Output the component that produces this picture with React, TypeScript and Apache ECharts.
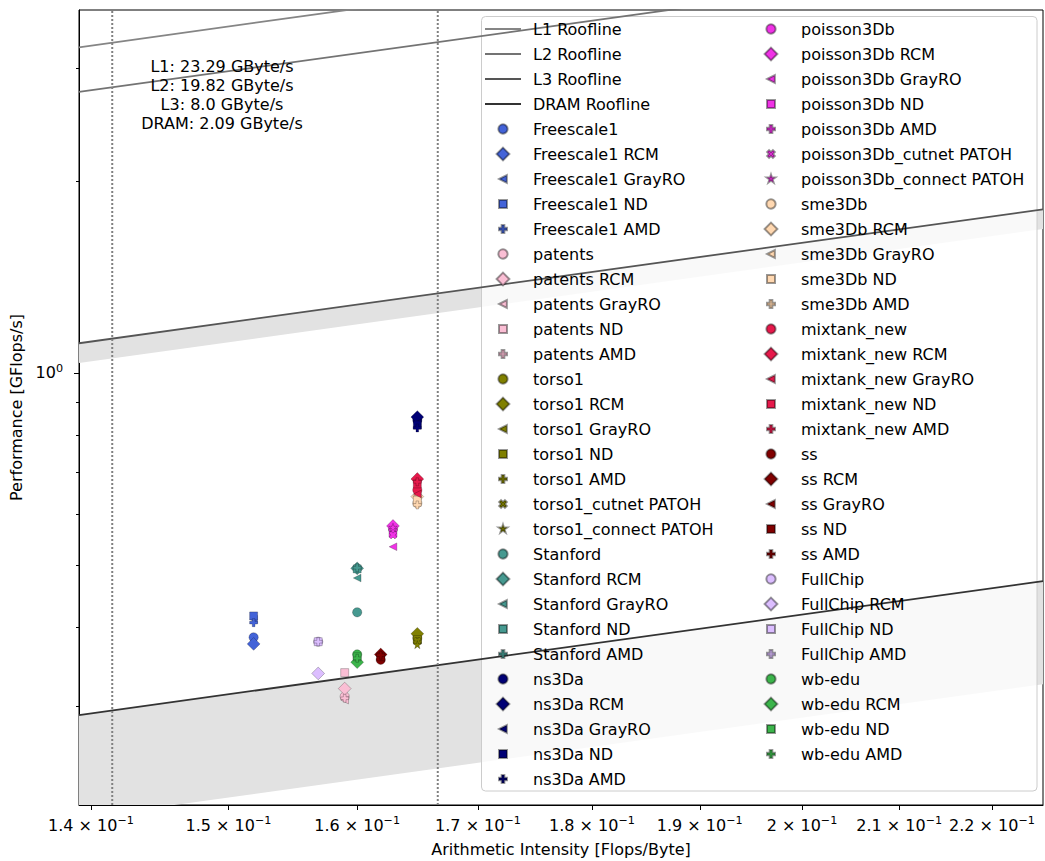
import React, { useEffect, useRef } from 'react';
import * as echarts from 'echarts';

const FONT = 'DejaVu Sans';

// ---- axes ----
const X_MIN = 0.13916;
const X_MAX = 0.2257;
const Y_MIN = 0.2102;
const Y_MAX = 3.708;
const X_TICKS = [0.14, 0.15, 0.16, 0.17, 0.18, 0.19, 0.2, 0.21, 0.22];
const X_TICK_MANTISSA = ['1.4', '1.5', '1.6', '1.7', '1.8', '1.9', '2', '2.1', '2.2'];
const X_TICK_EXP = '−1';
const Y_MAJOR_TICKS = [1];
const Y_MAJOR_LABELS = ['10'];
const Y_MAJOR_EXP = ['0'];
const Y_MINOR_TICKS = [0.3, 0.4, 0.5, 0.6, 0.7, 0.8, 0.9, 2, 3];
const X_NAME = 'Arithmetic Intensity [Flops/Byte]';
const Y_NAME = 'Performance [GFlops/s]';

// ---- rooflines ----
const ROOF_NAMES = ['L1', 'L2', 'L3', 'DRAM'];
const ROOF_BW = [23.29, 19.82, 8.0, 2.09];
const ROOF_COLORS = ['#858585', '#737373', '#555555', '#333333'];
const BAND_LOW = [7.45, 1.44];
const BAND_HIGH = [8.0, 2.09];
const VLINES_AI = [0.1415, 0.1666];

// ---- measured kernels ----
const MATRICES = ['Freescale1', 'patents', 'torso1', 'Stanford', 'ns3Da', 'poisson3Db', 'sme3Db', 'mixtank_new', 'ss', 'FullChip', 'wb-edu'];
const MATRIX_COLORS = ['#4363d8', '#fabed4', '#808000', '#469990', '#000075', '#f032e6', '#ffd8b1', '#e6194b', '#800000', '#dcbeff', '#3cb44b'];
const MATRIX_AI = [0.1519, 0.159, 0.1649, 0.16, 0.1649, 0.1629, 0.1649, 0.1649, 0.1619, 0.1569, 0.16];

const VARIANTS_STD = ['', ' RCM', ' GrayRO', ' ND', ' AMD'];
const VARIANTS_PATOH = ['', ' RCM', ' GrayRO', ' ND', ' AMD', '_cutnet PATOH', '_connect PATOH'];
const VARIANTS_NOGRAY = ['', ' RCM', ' ND', ' AMD'];

const FREESCALE1_PERF = [0.385, 0.376, 0.411, 0.416, 0.406];
const PATENTS_PERF = [0.311, 0.32, 0.307, 0.339, 0.309];
const TORSO1_PERF = [0.384, 0.39, 0.381, 0.382, 0.379, 0.38, 0.3745];
const STANFORD_PERF = [0.4215, 0.494, 0.477, 0.493, 0.495];
const NS3DA_PERF = [0.844, 0.853, 0.835, 0.829, 0.82];
const POISSON3DB_PERF = [0.57, 0.5756, 0.534, 0.561, 0.567, 0.557, 0.572];
const SME3DB_PERF = [0.625, 0.64, 0.641, 0.632, 0.621];
const MIXTANK_PERF = [0.6555, 0.682, 0.646, 0.67, 0.675];
const SS_PERF = [0.355, 0.362, 0.358, 0.359, 0.361];
const FULLCHIP_PERF = [0.379, 0.338, 0.379, 0.379];
const WBEDU_PERF = [0.362, 0.352, 0.359, 0.357];

const MATRIX_VARIANTS = [VARIANTS_STD, VARIANTS_STD, VARIANTS_PATOH, VARIANTS_STD, VARIANTS_STD, VARIANTS_PATOH, VARIANTS_STD, VARIANTS_STD, VARIANTS_STD, VARIANTS_NOGRAY, VARIANTS_NOGRAY];
const MATRIX_PERF = [FREESCALE1_PERF, PATENTS_PERF, TORSO1_PERF, STANFORD_PERF, NS3DA_PERF, POISSON3DB_PERF, SME3DB_PERF, MIXTANK_PERF, SS_PERF, FULLCHIP_PERF, WBEDU_PERF];
const LEGEND_COL1_MATRICES = 5;

// ---- marker shapes (drawn in a 100x100 box, padded by anchor points) ----
const PAD = 'M0 0 M100 100 ';
function poly(pts: number[][]): string {
  return PAD + pts.map((p, i) => (i ? 'L' : 'M') + (50 + p[0]).toFixed(2) + ' ' + (50 + p[1]).toFixed(2)).join(' ') + ' Z';
}
function circle(r: number): string {
  return PAD + `M${50 - r} 50 A${r} ${r} 0 1 0 ${50 + r} 50 A${r} ${r} 0 1 0 ${50 - r} 50 Z`;
}
function plus(h: number): string {
  const a = h / 3;
  return poly([[-a, -h], [a, -h], [a, -a], [h, -a], [h, a], [a, a], [a, h], [-a, h], [-a, a], [-h, a], [-h, -a], [-a, -a]]);
}
function xshape(h: number): string {
  const s = h / 2;
  const raw = [[-1, -2], [0, -1], [1, -2], [2, -1], [1, 0], [2, 1], [1, 2], [0, 1], [-1, 2], [-2, 1], [-1, 0], [-2, -1]];
  return poly(raw.map(p => [p[0] * s, p[1] * s]));
}
function star(R: number): string {
  const r = R * 0.381966;
  const pts: number[][] = [];
  for (let i = 0; i < 10; i++) {
    const ang = -Math.PI / 2 + (i * Math.PI) / 5;
    const rad = i % 2 === 0 ? R : r;
    pts.push([rad * Math.cos(ang), rad * Math.sin(ang)]);
  }
  return poly(pts);
}
const MARKERS: Record<string, string> = {
  '': 'path://' + circle(29),
  ' RCM': 'path://' + poly([[0, -40], [40, 0], [0, 40], [-40, 0]]),
  ' GrayRO': 'path://' + poly([[-24, 0], [24, -24], [24, 24]]),
  ' ND': 'path://' + poly([[-25, -25], [25, -25], [25, 25], [-25, 25]]),
  ' AMD': 'path://' + plus(25),
  '_cutnet PATOH': 'path://' + xshape(24),
  '_connect PATOH': 'path://' + star(28),
};
const LINE_ICON = 'path://M0 0 L36 0 L36 1.8 L0 1.8 Z';

const RICH = {
  m: { fontSize: 16, fontFamily: FONT, color: '#000', lineHeight: 20 },
  s: { fontSize: 11.2, fontFamily: FONT, color: '#000', lineHeight: 8, verticalAlign: 'top' },
};

function buildOption() {
  const scatterSeries: any[] = [];
  const col1: any[] = ROOF_NAMES.map(n => ({ name: n + ' Roofline', icon: LINE_ICON }));
  const col2: any[] = [];
  MATRICES.forEach((m, mi) => {
    MATRIX_VARIANTS[mi].forEach((v, vi) => {
      const name = m + v;
      scatterSeries.push({
        type: 'scatter',
        name,
        symbol: MARKERS[v],
        symbolSize: 16,
        silent: true,
        itemStyle: { color: MATRIX_COLORS[mi], borderColor: 'rgba(0,0,0,0.4)', borderWidth: 0.6, opacity: 1 },
        data: [[MATRIX_AI[mi], MATRIX_PERF[mi][vi]]],
      });
      (mi < LEGEND_COL1_MATRICES ? col1 : col2).push({ name, icon: MARKERS[v] });
    });
  });

  const roofSeries = ROOF_NAMES.map((n, i) => ({
    type: 'line',
    name: n + ' Roofline',
    color: ROOF_COLORS[i],
    symbol: 'none',
    silent: true,
    itemStyle: { color: ROOF_COLORS[i], borderWidth: 0 },
    lineStyle: { color: ROOF_COLORS[i], width: 1.8 },
    data: [[X_MIN, ROOF_BW[i] * X_MIN], [X_MAX, ROOF_BW[i] * X_MAX]],
  }));

  const vlineSeries = VLINES_AI.map((v, i) => ({
    type: 'line',
    name: 'vline' + i,
    symbol: 'none',
    silent: true,
    lineStyle: { color: '#808080', width: 2, type: [2, 2], cap: 'butt' },
    data: [[v, Y_MIN], [v, Y_MAX]],
  }));

  const bandSeries = {
    type: 'custom',
    name: 'bands',
    silent: true,
    clip: true,
    data: BAND_LOW.map((lo, i) => [X_MIN, lo, BAND_HIGH[i]]),
    encode: { x: 0, y: 1 },
    renderItem: (params: any, api: any) => {
      const lo = api.value(1);
      const hi = api.value(2);
      const pts = [[X_MIN, lo * X_MIN], [X_MAX, lo * X_MAX], [X_MAX, hi * X_MAX], [X_MIN, hi * X_MIN]].map(p => api.coord(p));
      return { type: 'polygon', shape: { points: pts }, style: { fill: '#e2e2e2' } };
    },
  };

  const annotation = ROOF_NAMES.map((n, i) => `${n}: ${ROOF_BW[i] === 8 ? '8.0' : ROOF_BW[i]} GByte/s`).join('\n');

  const legendBase = {
    type: 'plain',
    orient: 'vertical',
    top: 20,
    padding: 0,
    itemGap: 7,
    itemWidth: 36,
    itemHeight: 16,
    selectedMode: false,
    textStyle: { fontSize: 16, fontFamily: FONT, color: '#000', lineHeight: 18, padding: [0, 0, 0, 7] },
  };

  const yBase = { type: 'log', logBase: 10, min: Y_MIN, max: Y_MAX, splitLine: { show: false }, minorTick: { show: false }, minorSplitLine: { show: false } };

  return {
    animation: false,
    backgroundColor: '#fff',
    textStyle: { fontFamily: FONT },
    grid: { left: 79, top: 10, width: 964, height: 795, show: true, borderColor: '#000', borderWidth: 1, backgroundColor: 'transparent', containLabel: false, outerBoundsMode: 'none' },
    xAxis: {
      type: 'log', logBase: 10, min: X_MIN, max: X_MAX,
      name: X_NAME, nameLocation: 'middle', nameGap: 36,
      nameTextStyle: { fontSize: 16, fontFamily: FONT, color: '#000' },
      axisLine: { show: true, lineStyle: { color: '#000', width: 1 } },
      axisTick: { show: true, customValues: X_TICKS, length: 5, lineStyle: { color: '#000', width: 1 } },
      axisLabel: {
        show: true, customValues: X_TICKS, margin: 10, hideOverlap: false,
        formatter: (v: number) => {
          const i = X_TICKS.findIndex(t => Math.abs(t - v) < 1e-6);
          return i < 0 ? '' : `{m|${X_TICK_MANTISSA[i]} × 10}{s|${X_TICK_EXP}}`;
        },
        rich: RICH,
      },
      splitLine: { show: false }, minorTick: { show: false }, minorSplitLine: { show: false },
    },
    yAxis: [
      {
        ...yBase,
        name: Y_NAME, nameLocation: 'middle', nameGap: 52,
        nameTextStyle: { fontSize: 16, fontFamily: FONT, color: '#000' },
        axisLine: { show: true, lineStyle: { color: '#000', width: 1 } },
        axisTick: { show: true, customValues: Y_MAJOR_TICKS, length: 5, lineStyle: { color: '#000', width: 1 } },
        axisLabel: {
          show: true, customValues: Y_MAJOR_TICKS, margin: 16, hideOverlap: false,
          formatter: (v: number) => {
            const i = Y_MAJOR_TICKS.findIndex(t => Math.abs(t - v) < 1e-6);
            return i < 0 ? '' : `{m|${Y_MAJOR_LABELS[i]}}{s|${Y_MAJOR_EXP[i]}}`;
          },
          rich: RICH,
        },
      },
      {
        ...yBase,
        position: 'left',
        axisLine: { show: false },
        axisTick: { show: true, customValues: Y_MINOR_TICKS, length: 3, lineStyle: { color: '#000', width: 1 } },
        axisLabel: { show: false },
      },
    ],
    legend: [
      { ...legendBase, left: 485, data: col1 },
      { ...legendBase, left: 762, data: col2 },
    ],
    graphic: {
      elements: [
        {
          type: 'rect', z: 3, silent: true,
          shape: { x: 481.5, y: 16.5, width: 555.5, height: 774.5, r: 4 },
          style: { fill: 'rgba(255,255,255,0.8)', stroke: '#cccccc', lineWidth: 1 },
        },
        {
          type: 'text', z: 5, silent: true, x: 222, y: 95,
          style: { text: annotation, fontSize: 16, fontFamily: FONT, fill: '#000', align: 'center', verticalAlign: 'middle', lineHeight: 19.3 },
        },
      ],
    },
    series: [bandSeries, ...roofSeries, ...vlineSeries, ...scatterSeries],
  };
}

export default function App() {
  const ref = useRef<HTMLDivElement>(null);
  useEffect(() => {
    const chart = echarts.init(ref.current as HTMLDivElement, null, { renderer: 'svg' });
    chart.setOption(buildOption() as any);
    return () => chart.dispose();
  }, []);
  return <div ref={ref} style={{ position: 'fixed', left: 0, top: 0, width: 1045, height: 861, background: '#fff' }} />;
}
